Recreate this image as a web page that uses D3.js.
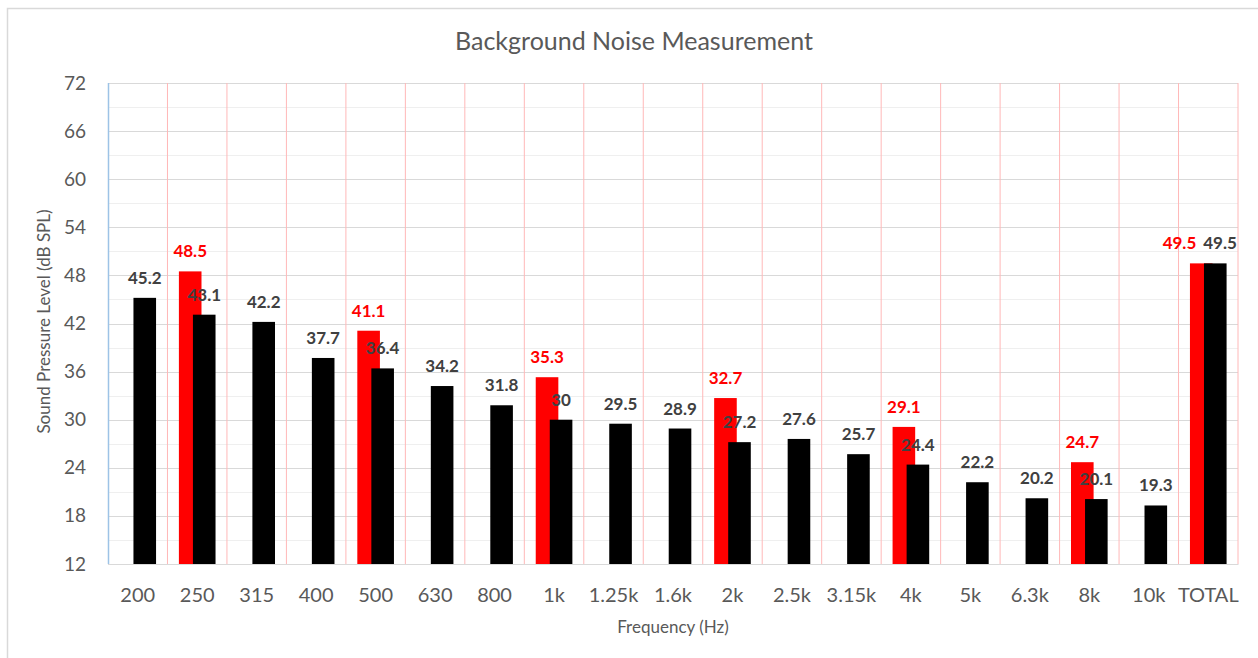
<!DOCTYPE html>
<html>
<head>
<meta charset="utf-8">
<script src="https://cdn.jsdelivr.net/npm/d3@7"></script>
<style>
  html, body { margin: 0; padding: 0; background: #fff; }
  svg { display: block; }
  text { font-family: Lato, "Open Sans", "Liberation Sans", sans-serif; }
</style>
</head>
<body>
<svg id="chart" width="1258" height="658"></svg>
<script>
// Third-octave band centre frequencies plus the overall total
const bands = ["200", "250", "315", "400", "500", "630", "800", "1k", "1.25k", "1.6k",
               "2k", "2.5k", "3.15k", "4k", "5k", "6.3k", "8k", "10k", "TOTAL"];

// Limit values (only specified at selected bands), dB SPL
const limitLevels = [null, 48.5, null, null, 41.1, null, null, 35.3, null, null,
                     32.7, null, null, 29.1, null, null, 24.7, null, 49.5];

// Measured background noise, dB SPL
const measuredLevels = [45.2, 43.1, 42.2, 37.7, 36.4, 34.2, 31.8, 30, 29.5, 28.9,
                        27.2, 27.6, 25.7, 24.4, 22.2, 20.2, 20.1, 19.3, 49.5];

const yTicks = [12, 18, 24, 30, 36, 42, 48, 54, 60, 66, 72];
const yMinor = [15, 21, 27, 33, 39, 45, 51, 57, 63, 69];

const svg = d3.select("#chart");
const plot = { left: 108, right: 1238, top: 83, bottom: 564 };

// Outer chart frame
svg.append("rect")
  .attr("x", 7.5).attr("y", 8.5)
  .attr("width", 1262).attr("height", 662)
  .attr("fill", "none").attr("stroke", "#d9d9d9").attr("stroke-width", 1.5);

const x = d3.scaleBand().domain(bands).range([plot.left, plot.right]).padding(0);
const y = d3.scaleLinear().domain([12, 72]).range([plot.bottom, plot.top]);

const step = x.bandwidth();
const barW = step * 0.38;
const shift = step * 0.118;

// Minor horizontal gridlines
svg.append("g").selectAll("line").data(yMinor).join("line")
  .attr("x1", plot.left).attr("x2", plot.right)
  .attr("y1", d => Math.round(y(d)) + 0.5).attr("y2", d => Math.round(y(d)) + 0.5)
  .attr("stroke", "#efefef").attr("stroke-width", 1);

// Major horizontal gridlines
svg.append("g").selectAll("line").data(yTicks).join("line")
  .attr("x1", plot.left).attr("x2", plot.right)
  .attr("y1", d => Math.round(y(d)) + 0.5).attr("y2", d => Math.round(y(d)) + 0.5)
  .attr("stroke", "#d9d9d9").attr("stroke-width", 1);

// Vertical band dividers
const dividers = bands.map(b => x(b) + step);
svg.append("g").selectAll("line").data(dividers).join("line")
  .attr("x1", d => d).attr("x2", d => d)
  .attr("y1", plot.top).attr("y2", plot.bottom)
  .attr("stroke", "#ffb8b8").attr("stroke-width", 1);

// Value axis line
svg.append("line")
  .attr("x1", plot.left + 0.5).attr("x2", plot.left + 0.5)
  .attr("y1", plot.top).attr("y2", plot.bottom)
  .attr("stroke", "#9dc3e6").attr("stroke-width", 1.5);

// Y axis
const yAxis = d3.axisLeft(y).tickValues(yTicks).tickSize(0).tickPadding(22);
const gy = svg.append("g").attr("transform", `translate(${plot.left},0)`).call(yAxis);
gy.select(".domain").remove();
gy.selectAll("text")
  .attr("fill", "#595959").style("font-size", "19px")
  .attr("font-family", "Lato, 'Open Sans', sans-serif");

// X axis
const xAxis = d3.axisBottom(x).tickSize(0).tickPadding(24);
const gx = svg.append("g").attr("transform", `translate(0,${plot.bottom})`).call(xAxis);
gx.select(".domain").attr("stroke", "#d9d9d9");
gx.selectAll("text")
  .attr("fill", "#595959").style("font-size", "20px")
  .attr("font-family", "Lato, 'Open Sans', sans-serif");

// Limit bars (red, drawn first so measured bars overlap them)
const limitData = bands.map((b, i) => ({ band: b, v: limitLevels[i] })).filter(d => d.v !== null);
const measData = bands.map((b, i) => ({ band: b, v: measuredLevels[i] }));
const cx = b => x(b) + step / 2;
const isTotal = b => b === "TOTAL";

svg.append("g").selectAll("rect").data(limitData).join("rect")
  .attr("x", d => cx(d.band) - shift - barW / 2)
  .attr("y", d => y(d.v))
  .attr("width", barW)
  .attr("height", d => y(12) - y(d.v))
  .attr("fill", "#ff0000");

svg.append("g").selectAll("rect").data(measData).join("rect")
  .attr("x", d => cx(d.band) + shift - barW / 2)
  .attr("y", d => y(d.v))
  .attr("width", barW)
  .attr("height", d => y(12) - y(d.v))
  .attr("fill", "#000000");

// Value labels; the pair on the total band is spread apart so both stay legible
svg.append("g").selectAll("text").data(limitData).join("text")
  .attr("x", d => isTotal(d.band) ? cx(d.band) - 12 : cx(d.band) - shift)
  .attr("y", d => y(d.v) - 14)
  .attr("text-anchor", d => isTotal(d.band) ? "end" : "middle")
  .attr("fill", "#ff0000")
  .style("font-size", "17px").style("font-weight", "bold")
  .text(d => d.v);

svg.append("g").selectAll("text").data(measData).join("text")
  .attr("x", d => isTotal(d.band) ? cx(d.band) - 5 : cx(d.band) + shift)
  .attr("y", d => y(d.v) - 14)
  .attr("text-anchor", d => isTotal(d.band) ? "start" : "middle")
  .attr("fill", "#404040")
  .style("font-size", "17px").style("font-weight", "bold")
  .text(d => d.v);

// Titles
svg.append("text")
  .attr("x", 634).attr("y", 50)
  .attr("text-anchor", "middle")
  .attr("fill", "#595959").style("font-size", "25px")
  .text("Background Noise Measurement");

svg.append("text")
  .attr("x", (plot.left + plot.right) / 2).attr("y", 633)
  .attr("text-anchor", "middle")
  .attr("fill", "#595959").style("font-size", "17px")
  .text("Frequency (Hz)");

svg.append("text")
  .attr("transform", `translate(50,${(plot.top + plot.bottom) / 2 - 2}) rotate(-90)`)
  .attr("text-anchor", "middle")
  .attr("fill", "#595959").style("font-size", "17px")
  .text("Sound Pressure Level (dB SPL)");
</script>
</body>
</html>
